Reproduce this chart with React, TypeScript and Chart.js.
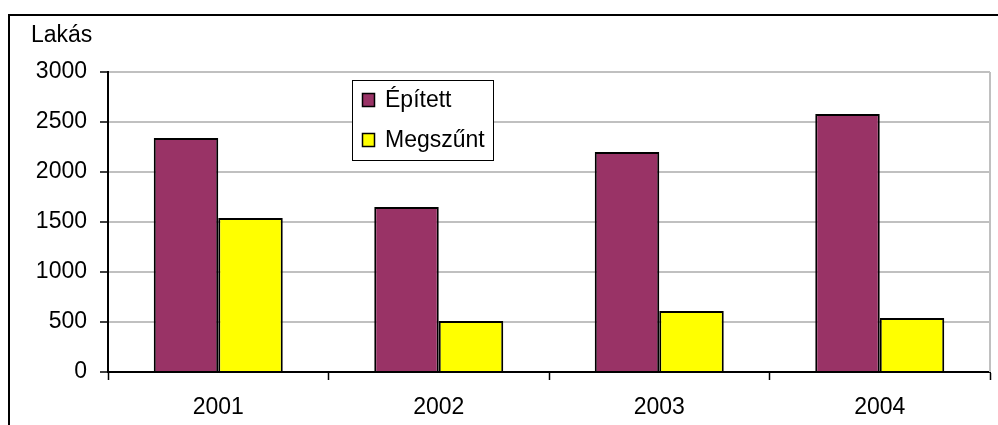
import React, { useEffect, useRef } from "react";
import { Chart, registerables } from "chart.js";

Chart.register(...registerables);

const years = ["2001", "2002", "2003", "2004"];
const built = [2340, 1650, 2200, 2580];
const demolished = [1540, 510, 610, 540];
const seriesNames = ["Épített", "Megszűnt"];
const seriesColors = ["#993366", "#FFFF00"];
const axisTitle = "Lakás";

const FONT = "'Liberation Sans', Arial, sans-serif";
const FS = 23;

const decorPlugin = {
  id: "decor",
  afterDraw(chart: any) {
    const ctx = chart.ctx as CanvasRenderingContext2D;
    const area = chart.chartArea;
    ctx.save();
    // outer frame (left + top)
    ctx.strokeStyle = "#000";
    ctx.lineWidth = 2;
    ctx.beginPath();
    ctx.moveTo(9, 425);
    ctx.lineTo(9, 15);
    ctx.lineTo(998, 15);
    ctx.stroke();
    // right plot border
    ctx.strokeStyle = "#c0c0c0";
    ctx.lineWidth = 2;
    ctx.beginPath();
    ctx.moveTo(area.right, area.top);
    ctx.lineTo(area.right, area.bottom);
    ctx.stroke();
    // axis title
    ctx.fillStyle = "#000";
    ctx.font = `${FS}px ${FONT}`;
    ctx.textAlign = "left";
    ctx.textBaseline = "alphabetic";
    ctx.fillText(axisTitle, 31, 42);
    // legend
    const lx = 352.5, ly = 80.5, lw = 141, lh = 80;
    ctx.fillStyle = "#fff";
    ctx.fillRect(lx, ly, lw, lh);
    ctx.strokeStyle = "#000";
    ctx.lineWidth = 1;
    ctx.strokeRect(lx, ly, lw, lh);
    const ds = chart.data.datasets;
    const baselines = [107, 147];
    ds.forEach((d: any, i: number) => {
      const by = baselines[i];
      ctx.fillStyle = d.backgroundColor;
      ctx.fillRect(362.5, by - 13.5, 12, 13);
      ctx.strokeStyle = "#000";
      ctx.lineWidth = 1.5;
      ctx.strokeRect(362.5, by - 13.5, 12, 13);
      ctx.fillStyle = "#000";
      ctx.font = `${FS}px ${FONT}`;
      ctx.fillText(d.label, 385, by);
    });
    ctx.restore();
  },
};

export default function App() {
  const ref = useRef<HTMLCanvasElement>(null);
  useEffect(() => {
    if (!ref.current) return;
    const chart = new Chart(ref.current, {
      type: "bar",
      data: {
        labels: years,
        datasets: [
          {
            label: seriesNames[0],
            data: built,
            backgroundColor: seriesColors[0],
            borderColor: "#000",
            borderWidth: 2,
          },
          {
            label: seriesNames[1],
            data: demolished,
            backgroundColor: seriesColors[1],
            borderColor: "#000",
            borderWidth: 2,
          },
        ],
      },
      options: {
        responsive: false,
        animation: false,
        devicePixelRatio: 1,
        layout: { padding: { left: 0, top: 72, right: 8, bottom: 0 } },
        datasets: { bar: { categoryPercentage: 0.585, barPercentage: 1 } },
        plugins: { legend: { display: false }, tooltip: { enabled: false } },
        scales: {
          x: {
            afterFit: (s: any) => {
              s.height = 53;
            },
            grid: {
              display: true,
              drawOnChartArea: false,
              offset: true,
              tickLength: 8,
              tickColor: "#000",
              tickWidth: 1.5,
            },
            border: { color: "#000", width: 2 },
            ticks: {
              color: "#000",
              font: { family: FONT, size: FS },
              padding: 14,
              maxRotation: 0,
            },
          },
          y: {
            min: 0,
            max: 3000,
            afterFit: (s: any) => {
              s.width = 108;
            },
            grid: {
              color: "#c0c0c0",
              lineWidth: 2,
              tickLength: 8,
              tickColor: "#000",
              tickWidth: 1.5,
            },
            border: { color: "#000", width: 2 },
            ticks: {
              stepSize: 500,
              color: "#000",
              font: { family: FONT, size: FS },
              padding: 13,
              callback: (v: any) => String(v),
            },
          },
        },
      },
      plugins: [decorPlugin],
    });
    return () => chart.destroy();
  }, []);
  return (
    <div style={{ position: "fixed", left: 0, top: 0, width: 998, height: 425, overflow: "hidden", background: "#fff" }}>
      <canvas ref={ref} width={998} height={425} style={{ display: "block" }} />
    </div>
  );
}
